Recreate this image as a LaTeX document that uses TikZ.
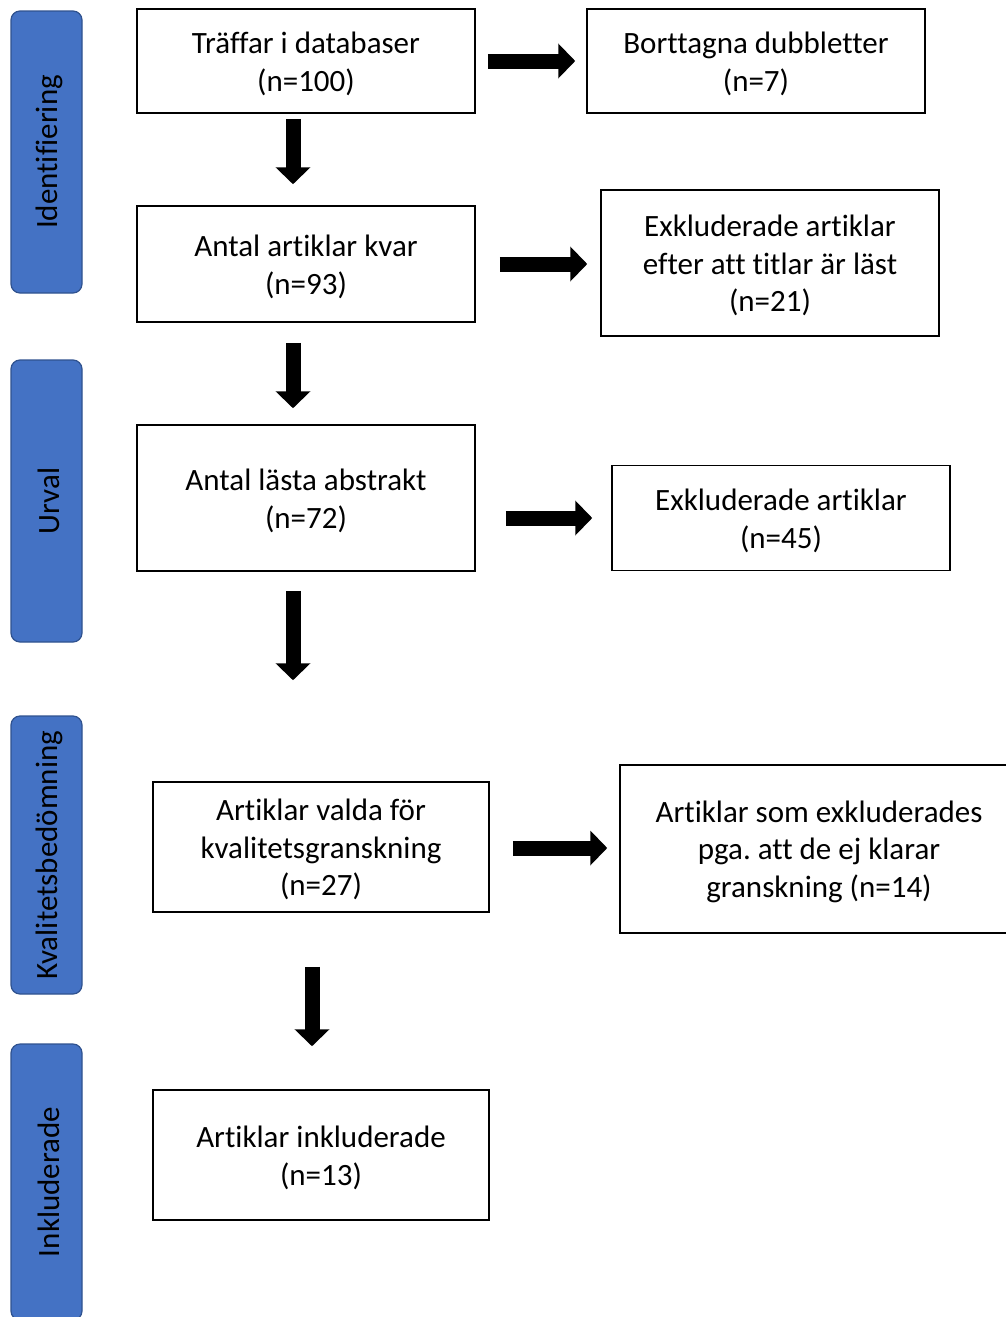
\documentclass[tikz,border=0pt]{standalone}
\usepackage{fontspec}
\setmainfont{Carlito}[Ligatures=NoCommon]
\usetikzlibrary{arrows.meta}
\frenchspacing

\definecolor{phasefill}{HTML}{4472C4}
\definecolor{phaseedge}{HTML}{2F528F}
\newcommand{\topstrut}{\rule{0pt}{27pt}}

\begin{document}
\begin{tikzpicture}[x=1pt, y=-1pt,
    box/.style={draw=black, line width=1.5pt, align=center, inner sep=0pt,
      font=\fontsize{31}{37.5}\selectfont},
    phase/.style={draw=phaseedge, fill=phasefill, line width=1.2pt, rounded corners=9pt,
      rotate=90, minimum height=71pt, inner sep=0pt, font=\fontsize{31}{37.5}\selectfont},
    fatarrow/.style={line width=15pt, -{Triangle[width=34pt,length=17pt]}}]
      \useasboundingbox (0,0) rectangle (1006,1317);
      \clip (0,0) rectangle (1006,1317);

      % faser
      \node[phase, minimum width=282pt] (identifiering) at (46.5,152) {\rule{0pt}{27pt}Identifiering};
      \node[phase, minimum width=282pt] (urval) at (46.5,501) {\rule{0pt}{27pt}Urval};
      \node[phase, minimum width=278pt] (kvalitet) at (46.5,855) {\rule{0pt}{27pt}Kvalitetsbedömning};
      \node[phase, minimum width=276pt] (inkluderade) at (46.5,1182) {\rule{0pt}{27pt}Inkluderade};

      % rutor
      \node[box, minimum width=338pt, minimum height=104pt] (traffar) at (306,61) {\topstrut Träffar i databaser\\(n=100)};
      \node[box, minimum width=338pt, minimum height=104pt] (dubbletter) at (756,61) {\topstrut Borttagna dubbletter\\(n=7)};
      \node[box, minimum width=338pt, minimum height=116pt] (kvar) at (306,264) {\topstrut Antal artiklar kvar\\(n=93)};
      \node[box, minimum width=338pt, minimum height=146pt] (titlar) at (770,263) {\topstrut Exkluderade artiklar\\efter att titlar är läst\\(n=21)};
      \node[box, minimum width=338pt, minimum height=146pt] (abstrakt) at (306,498) {\topstrut Antal lästa abstrakt\\(n=72)};
      \node[box, minimum width=338pt, minimum height=105pt] (exkl) at (781,518) {\topstrut Exkluderade artiklar\\(n=45)};
      \node[box, minimum width=336pt, minimum height=130pt] (valda) at (321,847) {\topstrut Artiklar valda för\\kvalitetsgranskning\\(n=27)};
      \node[box, minimum width=398pt, minimum height=168pt] (granskning) at (819,849) {\topstrut Artiklar som exkluderades\\pga. att de ej klarar\\granskning (n=14)};
      \node[box, minimum width=336pt, minimum height=130pt] (inkl) at (321,1155) {\topstrut Artiklar inkluderade\\(n=13)};

      % pilar nedat
      \draw[fatarrow, shorten <=5pt, shorten >=21pt] ([xshift=-13pt]traffar.south) -- ([xshift=-13pt]kvar.north);
      \draw[fatarrow, shorten <=20pt, shorten >=16pt] ([xshift=-13pt]kvar.south) -- ([xshift=-13pt]abstrakt.north);
      \draw[fatarrow, shorten <=19pt, shorten >=101pt] ([xshift=-13pt]abstrakt.south) -- ([xshift=-28pt]valda.north);
      \draw[fatarrow, shorten <=54pt, shorten >=43pt] ([xshift=-9pt]valda.south) -- ([xshift=-9pt]inkl.north);

      % pilar at hoger
      \draw[fatarrow, shorten <=12pt, shorten >=11pt] (traffar.east) -- (dubbletter.west);
      \draw[fatarrow, shorten <=24pt, shorten >=13pt] (kvar.east) -- (kvar.east -| titlar.west);
      \draw[fatarrow, shorten <=30pt, shorten >=19pt] (abstrakt.east |- exkl.west) -- (exkl.west);
      \draw[fatarrow, shorten <=23pt, shorten >=12pt] ([yshift=-1pt]valda.east) -- ([yshift=-1pt]valda.east -| granskning.west);
\end{tikzpicture}
\end{document}
